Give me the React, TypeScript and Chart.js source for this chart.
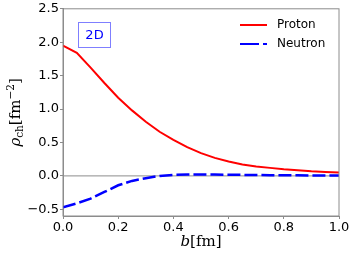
import React, { useEffect, useRef } from "react";
import { Chart, registerables } from "chart.js";
Chart.register(...registerables);

const bValues = [0, 0.05, 0.1, 0.15, 0.2, 0.25, 0.3, 0.35, 0.4, 0.45, 0.5, 0.55, 0.6, 0.65, 0.7, 0.75, 0.8, 0.85, 0.9, 0.95, 1.0];
const protonValues = [1.95, 1.84, 1.62, 1.39, 1.17, 0.98, 0.81, 0.66, 0.54, 0.43, 0.34, 0.27, 0.215, 0.172, 0.142, 0.12, 0.1, 0.085, 0.07, 0.06, 0.05];
const neutronValues = [-0.47, -0.41, -0.34, -0.24, -0.14, -0.075, -0.035, 0.0, 0.015, 0.02, 0.02, 0.02, 0.018, 0.015, 0.013, 0.011, 0.01, 0.008, 0.007, 0.006, 0.005];
const xTicks = [0, 0.2, 0.4, 0.6, 0.8, 1.0];
const yTicks = [-0.5, 0, 0.5, 1.0, 1.5, 2.0, 2.5];
const seriesNames = ["Proton", "Neutron"];
const panelLabel = "2D";

const AXIS_COLOR = "#8c8c8c";
const TICK_FONT = "DejaVu Sans";

const fmt = (v: number) => v.toFixed(1).replace("-", "\u2212");

const decorPlugin = {
  id: "decor",
  beforeDatasetsDraw(chart: any) {
    const { ctx, chartArea: a, scales } = chart;
    const y0 = scales.y.getPixelForValue(0);
    ctx.save();
    ctx.strokeStyle = AXIS_COLOR;
    ctx.lineWidth = 1;
    ctx.beginPath();
    ctx.moveTo(a.left, y0);
    ctx.lineTo(a.right, y0);
    ctx.stroke();
    ctx.restore();
  },
  afterDraw(chart: any) {
    const { ctx, chartArea: a } = chart;
    ctx.save();
    // frame
    ctx.strokeStyle = AXIS_COLOR;
    ctx.lineWidth = 1;
    ctx.strokeRect(a.left, a.top, a.right - a.left, a.bottom - a.top);

    // legend
    ctx.lineWidth = 2;
    ctx.strokeStyle = "#ff0000";
    ctx.beginPath();
    ctx.moveTo(240, 25);
    ctx.lineTo(267, 25);
    ctx.stroke();
    ctx.strokeStyle = "#0000ff";
    ctx.setLineDash([19, 4]);
    ctx.beginPath();
    ctx.moveTo(240, 44);
    ctx.lineTo(267, 44);
    ctx.stroke();
    ctx.setLineDash([]);
    ctx.fillStyle = "#000";
    ctx.font = `12px ${TICK_FONT}`;
    ctx.textBaseline = "middle";
    ctx.textAlign = "left";
    ctx.fillText(seriesNames[0], 277, 25);
    ctx.fillText(seriesNames[1], 277, 44);

    // 2D box
    ctx.strokeStyle = "rgba(0,0,255,0.5)";
    ctx.lineWidth = 1;
    ctx.strokeRect(78.5, 22.5, 32, 25);
    ctx.fillStyle = "#0000ff";
    ctx.font = `13px ${TICK_FONT}`;
    ctx.textAlign = "center";
    ctx.fillText(panelLabel, 94.5, 35.5);

    // x title: b[fm]
    ctx.fillStyle = "#000";
    ctx.textAlign = "left";
    ctx.textBaseline = "alphabetic";
    const cx = (a.left + a.right) / 2;
    ctx.font = "italic 15px DejaVu Serif";
    const bw = ctx.measureText("b").width;
    ctx.font = "15px DejaVu Serif";
    const rw = ctx.measureText("[fm]").width;
    let sx = cx - (bw + rw) / 2;
    ctx.font = "italic 15px DejaVu Serif";
    ctx.fillText("b", sx, 246);
    ctx.font = "15px DejaVu Serif";
    ctx.fillText("[fm]", sx + bw, 246);

    // y title: rho_ch [fm^-2]
    ctx.translate(20, (a.top + a.bottom) / 2);
    ctx.rotate(-Math.PI / 2);
    const parts: [string, string, number][] = [
      ["\u03c1", "italic 15px DejaVu Serif", 0],
      ["ch", "10.5px DejaVu Serif", 3],
      ["[fm", "15px DejaVu Serif", 0],
      ["\u22122", "10.5px DejaVu Serif", -6],
      ["]", "15px DejaVu Serif", 0],
    ];
    let total = 0;
    for (const [t, f] of parts) {
      ctx.font = f;
      total += ctx.measureText(t).width;
    }
    let px = -total / 2;
    for (const [t, f, dy] of parts) {
      ctx.font = f;
      ctx.fillText(t, px, 0 + dy);
      px += ctx.measureText(t).width;
    }
    ctx.restore();
  },
};

export default function App() {
  const ref = useRef<HTMLCanvasElement>(null);
  useEffect(() => {
    if (!ref.current) return;
    const chart = new Chart(ref.current, {
      type: "line",
      data: {
        datasets: [
          {
            label: seriesNames[0],
            data: bValues.map((b, i) => ({ x: b, y: protonValues[i] })),
            borderColor: "#ff0000",
            borderWidth: 2,
            pointRadius: 0,
            fill: false,
          },
          {
            label: seriesNames[1],
            data: bValues.map((b, i) => ({ x: b, y: neutronValues[i] })),
            borderColor: "#0000ff",
            borderWidth: 2.5,
            borderDash: [13, 4],
            pointRadius: 0,
            fill: false,
          },
        ],
      },
      options: {
        animation: false,
        responsive: false,
        events: [],
        layout: { padding: { left: 0, top: 8, right: 15, bottom: 0 } },
        plugins: { legend: { display: false }, tooltip: { enabled: false } },
        scales: {
          x: {
            type: "linear",
            min: 0,
            max: 1,
            afterBuildTicks: (s: any) => {
              s.ticks = xTicks.map((v) => ({ value: v }));
            },
            afterFit: (s: any) => {
              s.height = 41;
            },
            grid: { display: true, drawOnChartArea: false, drawTicks: true, tickLength: 3, color: AXIS_COLOR },
            border: { display: true, color: AXIS_COLOR },
            ticks: {
              padding: 1,
              color: "#000",
              font: { family: TICK_FONT, size: 13 },
              maxRotation: 0,
              callback: (v: any) => fmt(Number(v)),
            },
          },
          y: {
            type: "linear",
            min: -0.6,
            max: 2.5,
            afterBuildTicks: (s: any) => {
              s.ticks = yTicks.map((v) => ({ value: v }));
            },
            afterFit: (s: any) => {
              s.width = 63;
            },
            grid: { display: true, drawOnChartArea: false, drawTicks: true, tickLength: 3, color: AXIS_COLOR },
            border: { display: true, color: AXIS_COLOR },
            ticks: {
              padding: 1,
              color: "#000",
              font: { family: TICK_FONT, size: 13 },
              callback: (v: any) => fmt(Number(v)),
            },
          },
        },
      },
      plugins: [decorPlugin],
    });
    return () => chart.destroy();
  }, []);
  return (
    <div style={{ position: "fixed", left: 0, top: 0, width: 354, height: 257, background: "#fff" }}>
      <canvas ref={ref} width={354} height={257} style={{ width: 354, height: 257 }} />
    </div>
  );
}
